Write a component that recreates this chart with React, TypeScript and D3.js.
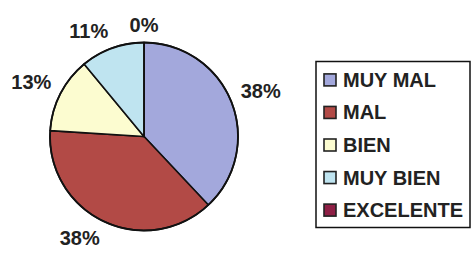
import React from "react";
import * as d3 from "d3";

const categories = ["MUY MAL", "MAL", "BIEN", "MUY BIEN", "EXCELENTE"];
const values = [38, 38, 13, 11, 0];
const labels = ["38%", "38%", "13%", "11%", "0%"];
const colors = ["#a3a8dc", "#b24a46", "#fcfcd0", "#bfe4f0", "#8e1f45"];

const W = 471;
const H = 254;
const cx = 144;
const cy = 136.5;
const R = 94;
const FONT = "'Liberation Sans', Arial, Helvetica, sans-serif";

export default function App() {
  const pie = d3.pie<number>().sort(null).value((d) => d);
  const arcs = pie(values);
  const arc = d3.arc<d3.PieArcDatum<number>>().innerRadius(0).outerRadius(R);

  const labelFont = 20;
  const labelH = 15;
  const charW = (s: string) =>
    s.split("").reduce((a, c) => a + (c === "%" ? 0.889 : 0.556), 0) * labelFont;
  const sgn = (v: number) => (Math.abs(v) < 1e-6 ? 0 : Math.sign(v));

  const legendY = d3.scaleBand<string>().domain(categories).range([62, 228]).paddingOuter(0.05);
  const legX = 316;
  const legRight = 470;
  const textX = 343;

  return (
    <svg
      width={W}
      height={H}
      style={{ position: "absolute", left: 0, top: 0, background: "#ffffff" }}
    >
      <rect x={0} y={0} width={W} height={H} fill="#ffffff" />
      <g transform={`translate(${cx},${cy})`}>
        {arcs.map((a, i) => (
          <path
            key={i}
            d={arc(a) || ""}
            fill={colors[i]}
            stroke="#111"
            strokeWidth={1.6}
            strokeLinejoin="round"
          />
        ))}
        <circle r={R} fill="none" stroke="#111" strokeWidth={1.8} />
        {arcs.map((a, i) => {
          const mid = (a.startAngle + a.endAngle) / 2;
          const s = Math.sin(mid);
          const c = Math.cos(mid);
          const rr = R + 10;
          const px = rr * s;
          const py = -rr * c;
          const w = charW(labels[i]);
          const x = px + sgn(s) * w / 2;
          const y = py - sgn(c) * labelH / 2;
          return (
            <text
              key={"l" + i}
              x={x}
              y={y}
              textAnchor="middle"
              dominantBaseline="central"
              fontFamily={FONT}
              fontWeight="bold"
              fontSize={labelFont}
              fill="#222"
            >
              {labels[i]}
            </text>
          );
        })}
      </g>
      <rect
        x={legX}
        y={61.5}
        width={legRight - legX}
        height={166}
        fill="#ffffff"
        stroke="#111"
        strokeWidth={1.5}
      />
      {categories.map((cat, i) => {
        const yc = (legendY(cat) || 0) + legendY.bandwidth() / 2;
        return (
          <g key={cat}>
            <rect
              x={324}
              y={yc - 6}
              width={12}
              height={12}
              fill={colors[i]}
              stroke="#222"
              strokeWidth={1.6}
            />
            <text
              x={textX}
              y={yc}
              dominantBaseline="central"
              fontFamily={FONT}
              fontWeight="bold"
              fontSize={20}
              fill="#222"
            >
              {cat}
            </text>
          </g>
        );
      })}
    </svg>
  );
}
